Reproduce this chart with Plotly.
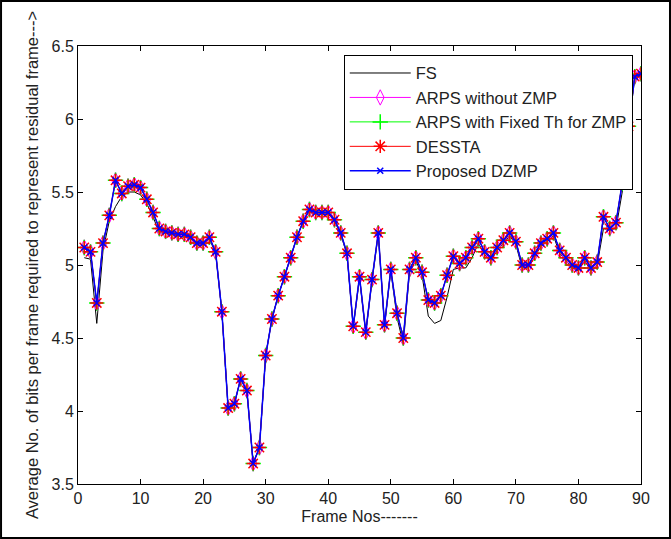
import plotly.graph_objects as go

frames = list(range(1, 91))

proposed = [5.12, 5.09, 4.74, 5.15, 5.34, 5.58, 5.49, 5.54, 5.55, 5.53,
            5.45, 5.36, 5.25, 5.23, 5.22, 5.21, 5.21, 5.19, 5.15, 5.15,
            5.19, 5.09, 4.68, 4.02, 4.05, 4.22, 4.14, 3.64, 3.75, 4.38,
            4.63, 4.79, 4.92, 5.05, 5.19, 5.30, 5.38, 5.36, 5.36, 5.36,
            5.31, 5.22, 5.08, 4.58, 4.92, 4.54, 4.90, 5.22, 4.59, 4.97,
            4.67, 4.50, 4.97, 5.05, 4.95, 4.76, 4.74, 4.79, 4.93, 5.06,
            5.01, 5.05, 5.12, 5.18, 5.09, 5.05, 5.12, 5.17, 5.22, 5.16,
            5.00, 5.00, 5.08, 5.15, 5.18, 5.22, 5.10, 5.05, 5.00, 4.98,
            5.05, 4.98, 5.02, 5.33, 5.25, 5.29, 5.56, 5.95, 6.29, 6.31]

fs = [5.05, 5.04, 4.60, 5.10, 5.30, 5.40, 5.47, 5.50, 5.50, 5.48,
      5.42, 5.33, 5.22, 5.22, 5.21, 5.20, 5.20, 5.18, 5.14, 5.14,
      5.18, 5.08, 4.68, 4.02, 4.05, 4.22, 4.14, 3.64, 3.75, 4.38,
      4.63, 4.79, 4.92, 5.05, 5.19, 5.30, 5.37, 5.35, 5.35, 5.35,
      5.30, 5.21, 5.07, 4.57, 4.91, 4.53, 4.89, 5.21, 4.58, 4.96,
      4.64, 4.46, 4.95, 5.03, 4.93, 4.65, 4.60, 4.62, 4.78, 4.97,
      4.98, 4.98, 5.05, 5.15, 5.07, 5.03, 5.10, 5.15, 5.20, 5.14,
      4.98, 4.98, 5.06, 5.13, 5.16, 5.20, 5.08, 5.03, 4.98, 4.96,
      5.03, 4.96, 5.00, 5.25, 5.24, 5.25, 5.50, 5.93, 6.28, 6.30]

arps_no_zmp = list(proposed)
arps_fixed = list(proposed)
dessta = list(proposed)

FONT = "Liberation Sans, Arial"

fig = go.Figure()
fig.add_trace(go.Scatter(x=frames, y=fs, name="FS", mode="lines",
                         line=dict(color="black", width=1)))
fig.add_trace(go.Scatter(x=frames, y=arps_no_zmp, name="ARPS without ZMP", mode="lines+markers",
                         line=dict(color="#ff00ff", width=1),
                         marker=dict(symbol="diamond-tall-open", size=11, color="#ff00ff", line=dict(width=1))))
fig.add_trace(go.Scatter(x=frames, y=arps_fixed, name="ARPS with Fixed Th for ZMP", mode="lines+markers",
                         line=dict(color="#00ff00", width=1),
                         marker=dict(symbol="cross-thin-open", size=11, color="#00ff00", line=dict(width=1.5, color="#00ff00"))))
fig.add_trace(go.Scatter(x=frames, y=dessta, name="DESSTA", mode="lines+markers",
                         line=dict(color="#ff0000", width=1),
                         marker=dict(symbol="asterisk-open", size=11, color="#ff0000", line=dict(width=1.5, color="#ff0000"))))
fig.add_trace(go.Scatter(x=frames, y=proposed, name="Proposed DZMP", mode="lines+markers",
                         line=dict(color="#0000ff", width=1.5),
                         marker=dict(symbol="x-thin-open", size=6, color="#0000ff", line=dict(width=1.5, color="#0000ff"))))

fig.update_layout(
    width=671, height=539,
    margin=dict(l=78, r=30, t=46, b=55),
    paper_bgcolor="white", plot_bgcolor="white",
    font=dict(family=FONT, size=16, color="#222222"),
    showlegend=True,
    legend=dict(x=0.472, y=0.98, xanchor="left", yanchor="top",
                bgcolor="white", bordercolor="black", borderwidth=1,
                font=dict(size=16.5), tracegroupgap=0, itemwidth=61),
    xaxis=dict(range=[0, 90], dtick=10, showgrid=False, zeroline=False,
               ticks="inside", ticklen=5, tickcolor="black",
               tickfont=dict(size=16),
               showline=True, linecolor="black", linewidth=1, mirror="ticks",
               title=dict(text="Frame Nos-------", font=dict(size=16), standoff=4)),
    yaxis=dict(range=[3.5, 6.5], dtick=0.5, showgrid=False, zeroline=False,
               ticks="inside", ticklen=5, tickcolor="black",
               tickfont=dict(size=16),
               showline=True, linecolor="black", linewidth=1, mirror="ticks",
               title=dict(text="Average No. of bits per frame required to represent residual frame--->",
                          font=dict(size=16.5), standoff=8)),
)

fig.add_shape(type="rect", xref="paper", yref="paper",
              x0=-0.1367, x1=1.0515, y0=-0.1233, y1=1.1027,
              line=dict(color="black", width=2), fillcolor="rgba(0,0,0,0)")

fig.write_html("out.html")
